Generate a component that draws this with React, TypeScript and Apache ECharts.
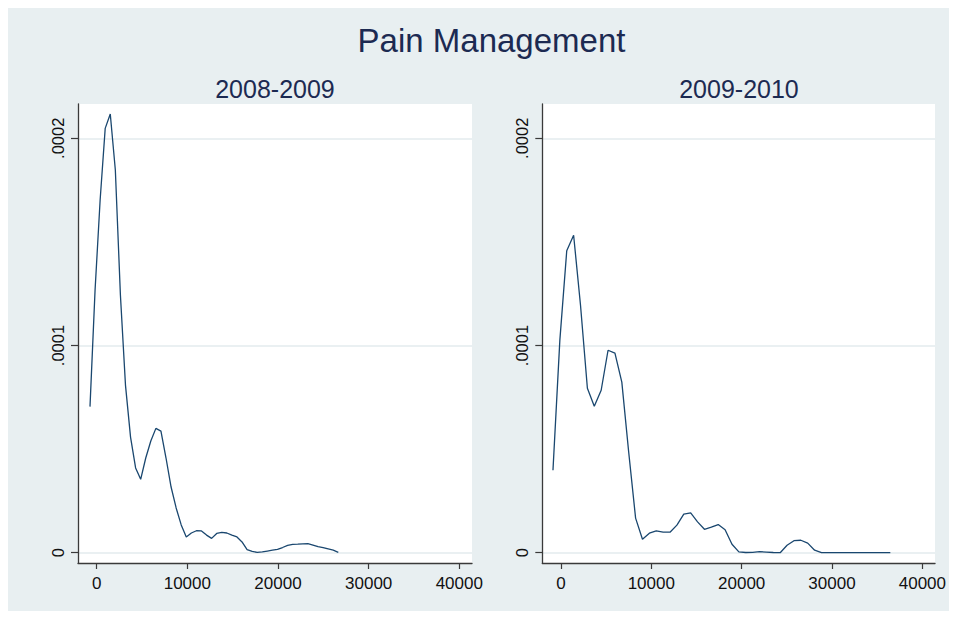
import React, { useEffect, useRef } from "react";
import * as echarts from "echarts";

const chartTitle = "Pain Management";
const panelTitles = ["2008-2009", "2009-2010"];

const xTickValues = [0, 10000, 20000, 30000, 40000];
const yTickValues = [0, 0.0001, 0.0002];
const yTickLabels = ["0", ".0001", ".0002"];

const x0809 = [
  -739, -180, 379, 938, 1497, 2056, 2615, 3174, 3733, 4292,
  4851, 5410, 5969, 6528, 7087, 7646, 8205, 8764, 9323, 9882,
  10441, 11000, 11559, 12118, 12677, 13236, 13795, 14354, 14913, 15472,
  16031, 16590, 17149, 17708, 18267, 18826, 19385, 19944, 20503, 21062,
  21621, 22180, 22739, 23298, 23857, 24416, 24975, 25534, 26093, 26652,
];
const d0809 = [
  7.05e-5, 12.68e-5, 17.02e-5, 20.48e-5, 21.17e-5, 18.47e-5, 12.44e-5, 8.09e-5, 5.58e-5, 4.09e-5,
  3.54e-5, 4.57e-5, 5.39e-5, 6.0e-5, 5.87e-5, 4.57e-5, 3.17e-5, 2.16e-5, 1.34e-5, 0.76e-5,
  0.95e-5, 1.06e-5, 1.05e-5, 0.85e-5, 0.69e-5, 0.93e-5, 0.98e-5, 0.95e-5, 0.85e-5, 0.76e-5,
  0.52e-5, 0.15e-5, 0.06e-5, 0.02e-5, 0.04e-5, 0.08e-5, 0.12e-5, 0.16e-5, 0.25e-5, 0.35e-5,
  0.40e-5, 0.41e-5, 0.43e-5, 0.44e-5, 0.37e-5, 0.29e-5, 0.24e-5, 0.18e-5, 0.12e-5, 0.02e-5,
];

const x0910 = [
  -882, -120, 642, 1404, 2166, 2928, 3690, 4452, 5214, 5976,
  6738, 7500, 8262, 9024, 9786, 10548, 11310, 12072, 12834, 13596,
  14358, 15120, 15882, 16644, 17406, 18168, 18930, 19692, 20454, 21216,
  21978, 22740, 23502, 24264, 25026, 25788, 26550, 27312, 28074, 28836,
  29598, 30360, 31122, 31884, 32646, 33408, 34170, 34932, 35694, 36456,
];
const d0910 = [
  3.98e-5, 10.26e-5, 14.57e-5, 15.32e-5, 11.94e-5, 7.94e-5, 7.07e-5, 7.84e-5, 9.77e-5, 9.63e-5,
  8.23e-5, 4.85e-5, 1.67e-5, 0.65e-5, 0.94e-5, 1.05e-5, 0.99e-5, 0.99e-5, 1.33e-5, 1.86e-5,
  1.92e-5, 1.49e-5, 1.13e-5, 1.23e-5, 1.36e-5, 1.11e-5, 0.41e-5, 0.04e-5, 0.01e-5, 0.02e-5,
  0.05e-5, 0.03e-5, 0.01e-5, 0, 0.36e-5, 0.58e-5, 0.60e-5, 0.46e-5, 0.12e-5, 0,
  0, 0, 0, 0, 0, 0, 0, 0, 0, 0,
];

const FONT = '"Liberation Sans", Arial, Helvetica, sans-serif';
const BG = "#e8eff1";
const LINE = "#1a476f";
const AXIS = "#3a3a3a";
const TEXT = "#1c2a52";

function yLabel(v: number) {
  for (let i = 0; i < yTickValues.length; i++) {
    if (Math.abs(yTickValues[i] - v) < 1e-12) return yTickLabels[i];
  }
  return "";
}

export default function App() {
  const ref = useRef<HTMLDivElement>(null);
  useEffect(() => {
    if (!ref.current) return;
    const chart = echarts.init(ref.current, undefined, { renderer: "svg" });
    const grids = [
      { left: 70, top: 96, width: 394, height: 459 },
      { left: 534.3, top: 96, width: 393.4, height: 459 },
    ];
    const series = [
      { x: x0809, y: d0809 },
      { x: x0910, y: d0910 },
    ];
    chart.setOption({
      animation: false,
      backgroundColor: BG,
      graphic: [
        {
          type: "text",
          x: 483.5,
          y: 32,
          style: {
            text: chartTitle,
            fill: TEXT,
            font: `33px ${FONT}`,
            align: "center",
            verticalAlign: "middle",
          },
        },
        ...panelTitles.map((t, i) => ({
          type: "text",
          x: grids[i].left + grids[i].width / 2,
          y: 81,
          style: {
            text: t,
            fill: TEXT,
            font: `25px ${FONT}`,
            align: "center",
            verticalAlign: "middle",
          },
        })),
      ],
      grid: grids.map((g) => ({
        ...g,
        show: true,
        backgroundColor: "#ffffff",
        borderWidth: 0,
        containLabel: false,
      })),
      xAxis: grids.map((_, i) => ({
        type: "value",
        gridIndex: i,
        min: -2063,
        max: 41400,
        axisLine: { show: true, onZero: false, lineStyle: { color: AXIS, width: 1.3 } },
        axisTick: { show: true, length: 6, customValues: xTickValues, lineStyle: { color: AXIS, width: 1.2 } },
        axisLabel: {
          customValues: xTickValues,
          formatter: (v: number) => String(v),
          color: "#111",
          fontSize: 17,
          fontFamily: FONT,
          margin: 12,
        },
        splitLine: { show: false },
      })),
      yAxis: grids.map((_, i) => ({
        type: "value",
        gridIndex: i,
        min: -0.00000497,
        max: 0.00021655,
        axisLine: { show: true, onZero: false, lineStyle: { color: AXIS, width: 1.3 } },
        axisTick: { show: true, length: 7, customValues: yTickValues, lineStyle: { color: AXIS, width: 1.2 } },
        axisLabel: {
          customValues: yTickValues,
          formatter: (v: number) => yLabel(v),
          rotate: 90,
          color: "#111",
          fontSize: 16.5,
          fontFamily: FONT,
          margin: 12,
        },
        splitLine: { show: true, lineStyle: { color: "#e3ebee", width: 1.5 } },
      })),
      series: series.map((s, i) => ({
        type: "line",
        xAxisIndex: i,
        yAxisIndex: i,
        data: s.x.map((x, k) => [x, s.y[k]]),
        showSymbol: false,
        symbol: "none",
        lineStyle: { color: LINE, width: 1.3 },
        silent: true,
      })),
    });
    return () => chart.dispose();
  }, []);
  return <div ref={ref} style={{ width: 941, height: 603 }} />;
}
